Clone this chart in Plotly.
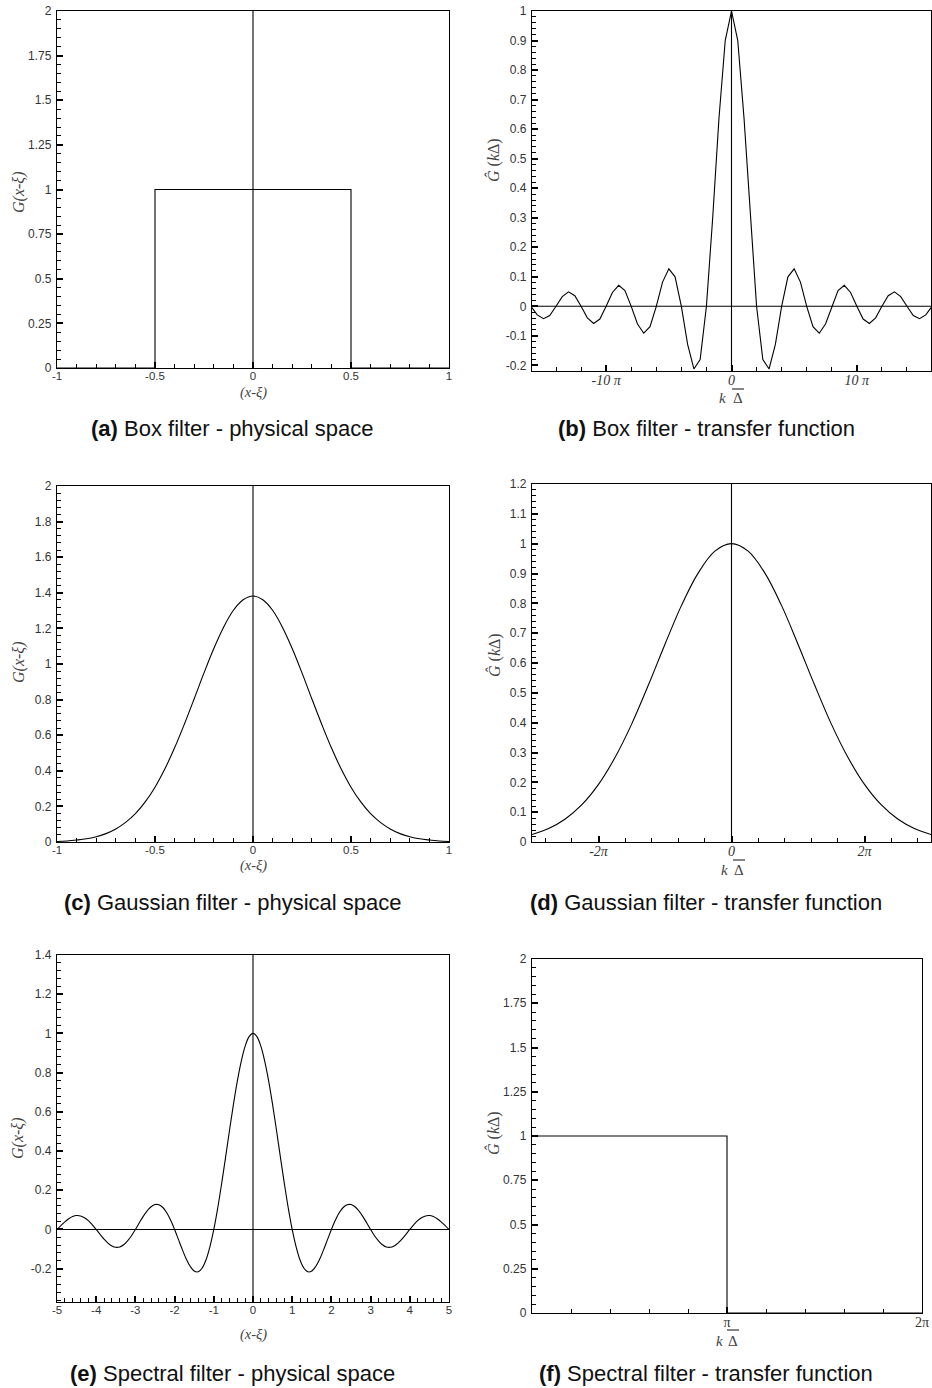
import numpy as np
import plotly.graph_objects as go

W, H = 932, 1388
PI = np.pi

# ---------------- data ----------------
# (a) box filter, physical space
box_x = [-1, -0.5, -0.5, 0.5, 0.5, 1]
box_g = [0, 0, 1, 1, 0, 0]

# (b) box filter transfer function; k*Delta given in units of pi
box_k_pi = [n / 2 for n in range(-32, 33)]
box_ghat = [0, -0.029, -0.042, -0.031, 0, 0.033, 0.049, 0.036, 0, -0.039, -0.058, -0.043,
            0, 0.047, 0.071, 0.053, 0, -0.060, -0.091, -0.069, 0, 0.082, 0.127, 0.100,
            0, -0.129, -0.212, -0.180, 0, 0.300, 0.637, 0.900, 1,
            0.900, 0.637, 0.300, 0, -0.180, -0.212, -0.129, 0, 0.100, 0.127, 0.082,
            0, -0.069, -0.091, -0.060, 0, 0.053, 0.071, 0.047, 0, -0.043, -0.058, -0.039,
            0, 0.036, 0.049, 0.033, 0, -0.031, -0.042, -0.029, 0]

# (c) Gaussian filter, physical space
gauss_x = [round(-1 + 0.05 * i, 2) for i in range(41)]
gauss_g = [0.003, 0.006, 0.011, 0.018, 0.030, 0.047, 0.073, 0.110, 0.159, 0.225, 0.308,
           0.410, 0.529, 0.663, 0.805, 0.950, 1.087, 1.207, 1.302, 1.361, 1.382,
           1.361, 1.302, 1.207, 1.087, 0.950, 0.805, 0.663, 0.529, 0.410, 0.308,
           0.225, 0.159, 0.110, 0.073, 0.047, 0.030, 0.018, 0.011, 0.006, 0.003]

# (d) Gaussian transfer function; k*Delta in units of pi
gauss_k_pi = [n / 4 for n in range(-12, 13)]
gauss_ghat = [0.025, 0.045, 0.077, 0.125, 0.193, 0.284, 0.396, 0.526, 0.663, 0.794, 0.902,
              0.975, 1, 0.975, 0.902, 0.794, 0.663, 0.526, 0.396, 0.284, 0.193, 0.125,
              0.077, 0.045, 0.025]

# (e) spectral filter, physical space
spec_x = [round(-5 + 0.1 * i, 1) for i in range(101)]
spec_g = [0, 0.020, 0.039, 0.055, 0.066, 0.071, 0.069, 0.060, 0.045, 0.024,
          0, -0.025, -0.049, -0.070, -0.084, -0.091, -0.089, -0.078, -0.058, -0.032,
          0, 0.034, 0.067, 0.095, 0.116, 0.127, 0.126, 0.112, 0.085, 0.047,
          0, -0.052, -0.104, -0.152, -0.189, -0.212, -0.216, -0.198, -0.156, -0.089,
          0, 0.109, 0.234, 0.368, 0.505, 0.637, 0.757, 0.858, 0.935, 0.984,
          1,
          0.984, 0.935, 0.858, 0.757, 0.637, 0.505, 0.368, 0.234, 0.109, 0,
          -0.089, -0.156, -0.198, -0.216, -0.212, -0.189, -0.152, -0.104, -0.052, 0,
          0.047, 0.085, 0.112, 0.126, 0.127, 0.116, 0.095, 0.067, 0.034, 0,
          -0.032, -0.058, -0.078, -0.089, -0.091, -0.084, -0.070, -0.049, -0.025, 0,
          0.024, 0.045, 0.060, 0.069, 0.071, 0.066, 0.055, 0.039, 0.020, 0]

# (f) spectral transfer function; k*Delta in units of pi
spec_k_pi = [0, 1, 1, 2]
spec_ghat = [1, 1, 0, 0]

# tick labels
ticks_a_x = [-1, -0.5, 0, 0.5, 1]
ticks_a_y = [0, 0.25, 0.5, 0.75, 1, 1.25, 1.5, 1.75, 2]
ticks_b_x_pi = [-10, 0, 10]
ticks_b_x_txt = ["-10 π", "0", "10 π"]
ticks_b_y = [-0.2, -0.1, 0, 0.1, 0.2, 0.3, 0.4, 0.5, 0.6, 0.7, 0.8, 0.9, 1]
ticks_c_x = [-1, -0.5, 0, 0.5, 1]
ticks_c_y = [0, 0.2, 0.4, 0.6, 0.8, 1, 1.2, 1.4, 1.6, 1.8, 2]
ticks_d_x_pi = [-2, 0, 2]
ticks_d_x_txt = ["-2π", "0", "2π"]
ticks_d_y = [0, 0.1, 0.2, 0.3, 0.4, 0.5, 0.6, 0.7, 0.8, 0.9, 1, 1.1, 1.2]
ticks_e_x = [-5, -4, -3, -2, -1, 0, 1, 2, 3, 4, 5]
ticks_e_y = [-0.2, 0, 0.2, 0.4, 0.6, 0.8, 1, 1.2, 1.4]
ticks_f_x_pi = [1, 2]
ticks_f_x_txt = ["π", "2π"]
ticks_f_y = [0, 0.25, 0.5, 0.75, 1, 1.25, 1.5, 1.75, 2]

captions = ["<b>(a)</b> Box filter - physical space",
            "<b>(b)</b> Box filter - transfer function",
            "<b>(c)</b> Gaussian filter - physical space",
            "<b>(d)</b> Gaussian filter - transfer function",
            "<b>(e)</b> Spectral filter - physical space",
            "<b>(f)</b> Spectral filter - transfer function"]

# ---------------- layout helpers ----------------
def fmt(v):
    return "%g" % v

def px(x):
    return x / W

def py(y):
    return 1 - y / H

# plot boxes in pixels: left, right, top, bottom
boxes = {
    1: (57, 449, 11, 368),
    2: (532, 931, 11, 371),
    3: (57, 449, 486, 842),
    4: (532, 931, 484, 842),
    5: (57, 449, 955, 1302),
    6: (532, 922, 959, 1313),
}

SANS = "Liberation Sans, Arial, sans-serif"
SERIF = "Liberation Serif, Times New Roman, serif"
TICKCOL = "#333333"

fig = go.Figure()
layout = dict(template="none", width=W, height=H, margin=dict(l=0, r=0, t=0, b=0),
              autosize=False, paper_bgcolor="white", plot_bgcolor="white", showlegend=False)

def axis_common():
    return dict(showline=True, linecolor="black", linewidth=1.3, mirror=True,
                ticks="inside", ticklen=6, tickwidth=1.6, tickcolor="black",
                showgrid=False, zeroline=False, fixedrange=True, automargin=False)

def set_axes(i, xr, yr, xtv, xtt, ytv, ytt, xminor, yminor, xfont, xstand):
    l, r, t, b = boxes[i]
    xa = axis_common()
    xa.update(domain=[px(l), px(r)], range=xr, anchor="y%d" % i,
              tickmode="array", tickvals=xtv, ticktext=xtt, tickfont=xfont,
              ticklabelstandoff=xstand,
              minor=dict(ticks="inside", ticklen=3.5, tickwidth=1, tickcolor="black",
                         tick0=0, dtick=xminor, showgrid=False))
    ya = axis_common()
    ya.update(domain=[py(b), py(t)], range=yr, anchor="x%d" % i,
              tickmode="array", tickvals=ytv, ticktext=ytt, ticklabelstandoff=2,
              tickfont=dict(family=SANS, size=12, color=TICKCOL),
              minor=dict(ticks="inside", ticklen=3.5, tickwidth=1, tickcolor="black",
                         tick0=0, dtick=yminor, showgrid=False))
    sfx = "" if i == 1 else str(i)
    layout["xaxis" + sfx] = xa
    layout["yaxis" + sfx] = ya

sans_tick = dict(family=SANS, size=11.5, color=TICKCOL)
serif_tick = dict(family=SERIF, size=14, color=TICKCOL)
EPS = 1e-6

set_axes(1, [-1, 1 + EPS], [0, 2 + EPS], ticks_a_x, [fmt(v) for v in ticks_a_x],
         ticks_a_y, [fmt(v) for v in ticks_a_y], 0.1, 0.05, sans_tick, -3)
set_axes(2, [-50, 50], [-0.219, 1 + EPS], [v * PI for v in ticks_b_x_pi],
         ["<i>%s</i>" % s for s in ticks_b_x_txt],
         ticks_b_y, [fmt(v) for v in ticks_b_y], 2 * PI, 0.02, serif_tick, -4)
set_axes(3, [-1, 1 + EPS], [0, 2 + EPS], ticks_c_x, [fmt(v) for v in ticks_c_x],
         ticks_c_y, [fmt(v) for v in ticks_c_y], 0.1, 0.04, sans_tick, -3)
set_axes(4, [-3 * PI, 3 * PI], [0, 1.2 + EPS], [v * PI for v in ticks_d_x_pi],
         ["<i>%s</i>" % s for s in ticks_d_x_txt],
         ticks_d_y, [fmt(v) for v in ticks_d_y], 2 * PI / 5, 0.02, serif_tick, -4)
set_axes(5, [-5, 5 + EPS], [-0.37, 1.4 + EPS], ticks_e_x, [fmt(v) for v in ticks_e_x],
         ticks_e_y, [fmt(v) for v in ticks_e_y], 0.2, 0.04, sans_tick, -3)
set_axes(6, [0, 2 * PI + EPS], [0, 2 + EPS], [v * PI for v in ticks_f_x_pi], ticks_f_x_txt,
         ticks_f_y, [fmt(v) for v in ticks_f_y], PI / 5, 0.05, serif_tick, -4)

# ---------------- traces ----------------
LINE = dict(color="black", width=1.1)

def add(i, x, y, shape="linear"):
    sfx = "" if i == 1 else str(i)
    fig.add_trace(go.Scatter(x=x, y=y, mode="lines", xaxis="x" + sfx, yaxis="y" + sfx,
                             line=dict(LINE, shape=shape), hoverinfo="skip"))

add(1, box_x, box_g)
add(2, [v * PI for v in box_k_pi], box_ghat)
add(3, gauss_x, gauss_g, "spline")
add(4, [v * PI for v in gauss_k_pi], gauss_ghat, "spline")
add(5, spec_x, spec_g, "spline")
add(6, [v * PI for v in spec_k_pi], spec_ghat)

# reference lines (x = 0 and y = 0)
shapes = []
for i in [1, 2, 3, 4, 5]:
    sfx = "" if i == 1 else str(i)
    shapes.append(dict(type="line", xref="x" + sfx, yref="y%s domain" % sfx,
                       x0=0, x1=0, y0=0, y1=1, line=dict(color="black", width=1.1)))
for i in [2, 5]:
    sfx = str(i)
    shapes.append(dict(type="line", xref="x%s domain" % sfx, yref="y" + sfx,
                       x0=0, x1=1, y0=0, y1=0, line=dict(color="black", width=1.1)))

# ---------------- annotations ----------------
ann = []
ylab_phys = "<i>G(x-ξ)</i>"
ylab_tr = "<i>Ĝ</i> (<i>k</i>Δ)"
xlab_phys = "<i>(x-ξ)</i>"

def text(x, y, s, size=16, family=SERIF, angle=0, color="#444444"):
    ann.append(dict(x=px(x), y=py(y), xref="paper", yref="paper", text=s, showarrow=False,
                    textangle=angle, font=dict(family=family, size=size, color=color),
                    xanchor="center", yanchor="middle"))

def k_delta(xk, xd, y, ybar):
    text(xk, y, "<i>k</i>", size=15)
    text(xd, y, "Δ", size=15)
    shapes.append(dict(type="line", xref="paper", yref="paper", x0=px(xd - 6), x1=px(xd + 6),
                       y0=py(ybar), y1=py(ybar), line=dict(color="#444444", width=1.3)))

# y titles
text(19, 192, ylab_phys, angle=-90)
text(493, 160, ylab_tr, angle=-90)
text(19, 662, ylab_phys, angle=-90)
text(494, 655, ylab_tr, angle=-90)
text(18, 1138, ylab_phys, angle=-90)
text(493, 1133, ylab_tr, angle=-90)
# x titles
text(253, 392, xlab_phys, size=14.5)
k_delta(722, 738, 398, 389)
text(253, 866, xlab_phys, size=14.5)
k_delta(724, 739, 870, 860)
text(253, 1334, xlab_phys, size=14.5)
k_delta(719, 733, 1341, 1330)
# captions
cap_pos = [(232, 428), (706, 428), (232, 902), (706, 902), (232, 1373), (706, 1373)]
for (cx, cy), c in zip(cap_pos, captions):
    text(cx, cy, c, size=22, family=SANS, color="#111111")

layout["annotations"] = ann
layout["shapes"] = shapes
fig.update_layout(**layout)
fig.write_html("out.html", config={"displayModeBar": False},
               post_script="document.body.style.margin='0';document.body.style.overflow='hidden';")
